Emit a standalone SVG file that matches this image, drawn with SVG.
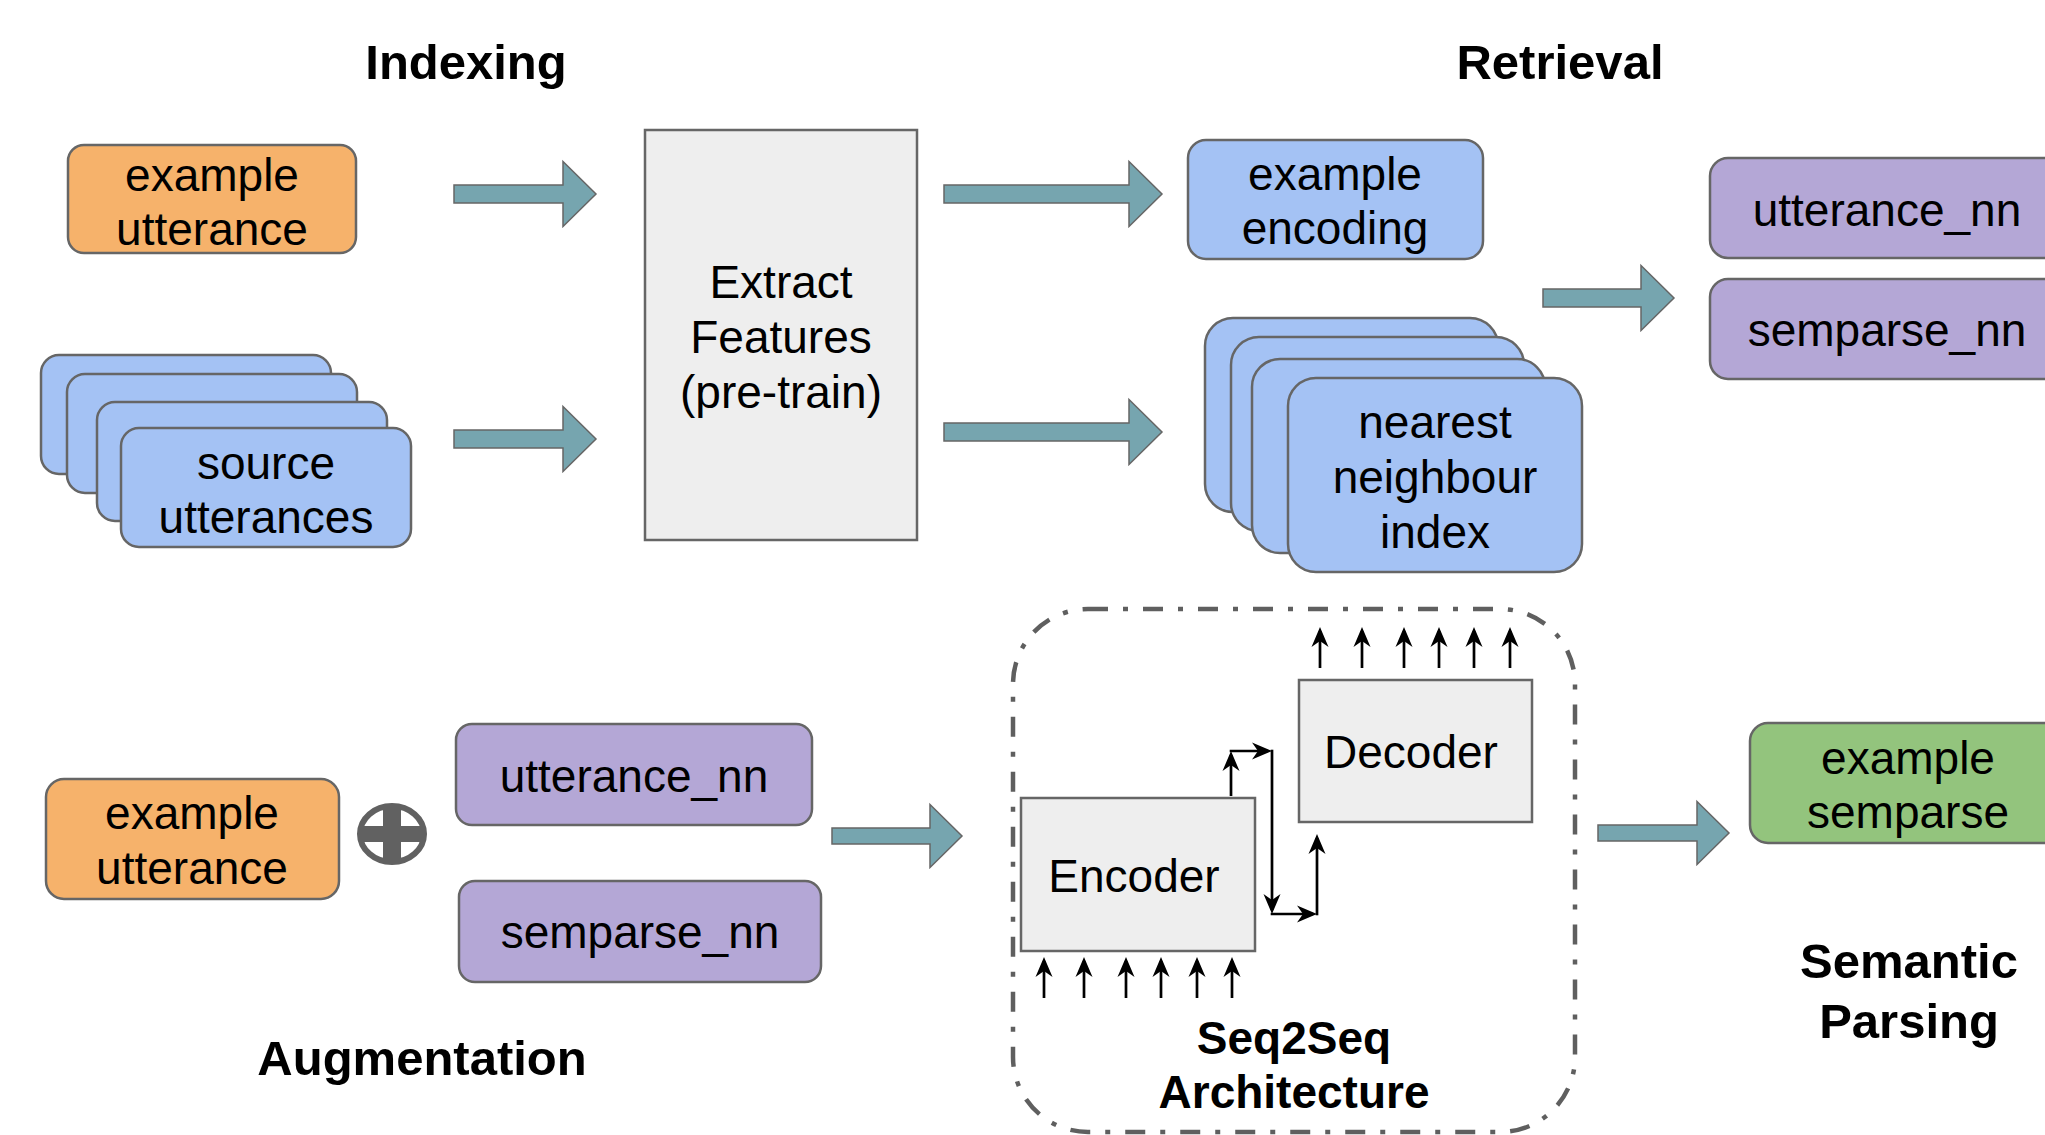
<svg xmlns="http://www.w3.org/2000/svg" width="2045" height="1135" viewBox="0 0 2045 1135">
<style>
.t{font-family:"Liberation Sans",Arial,sans-serif;font-size:46px;fill:#000;text-anchor:middle}
.h{font-family:"Liberation Sans",Arial,sans-serif;font-size:49px;font-weight:bold;fill:#000;text-anchor:middle}
.h2{font-family:"Liberation Sans",Arial,sans-serif;font-size:46px;font-weight:bold;fill:#000;text-anchor:middle}
.orange{fill:#f6b26b;stroke:#666;stroke-width:2.5}
.blue{fill:#a4c2f4;stroke:#666;stroke-width:2.5}
.purple{fill:#b4a7d6;stroke:#666;stroke-width:2.5}
.green{fill:#93c47d;stroke:#666;stroke-width:2.5}
.gray{fill:#eeeeee;stroke:#666;stroke-width:2.5}
.big{fill:#76a5af;stroke:#666;stroke-width:1.5}
.thin{stroke:#000;stroke-width:2.7;fill:none;marker-end:url(#ah)}
</style>
<defs>
<marker id="ah" markerUnits="userSpaceOnUse" viewBox="-20 -10 26 20" markerWidth="26" markerHeight="20" refX="0" refY="0" orient="auto">
<path d="M4,0 L-16,-8.5 L-10,0 L-16,8.5 Z" fill="#000"/>
</marker>
</defs>

<g id="titles">
<text class="h" x="466" y="79">Indexing</text>
<text class="h" x="1560" y="79">Retrieval</text>
<text class="h" x="422" y="1075">Augmentation</text>
<text class="h" x="1909" y="978">Semantic</text>
<text class="h" x="1909" y="1038">Parsing</text>
</g>

<g id="example-utterance">
<rect class="orange" x="68" y="145" width="288" height="108" rx="16"/>
<text class="t" x="212" y="191">example</text>
<text class="t" x="212" y="245">utterance</text>
</g>

<g id="source-utterances">
<rect class="blue" x="41" y="355" width="290" height="119" rx="18"/>
<rect class="blue" x="67" y="374" width="290" height="119" rx="18"/>
<rect class="blue" x="97" y="402" width="290" height="119" rx="18"/>
<rect class="blue" x="121" y="428" width="290" height="119" rx="18"/>
<text class="t" x="266" y="479">source</text>
<text class="t" x="266" y="533">utterances</text>
</g>

<g id="extract-features">
<rect class="gray" x="645" y="130" width="272" height="410"/>
<text class="t" x="781" y="298">Extract</text>
<text class="t" x="781" y="353">Features</text>
<text class="t" x="781" y="408">(pre-train)</text>
</g>

<g id="example-encoding">
<rect class="blue" x="1188" y="140" width="295" height="119" rx="18"/>
<text class="t" x="1335" y="190">example</text>
<text class="t" x="1335" y="244">encoding</text>
</g>

<g id="nearest-neighbour-index">
<rect class="blue" x="1205" y="318" width="293" height="194" rx="28"/>
<rect class="blue" x="1231" y="337" width="293" height="194" rx="28"/>
<rect class="blue" x="1252" y="359" width="293" height="194" rx="28"/>
<rect class="blue" x="1288" y="378" width="294" height="194" rx="28"/>
<text class="t" x="1435" y="438">nearest</text>
<text class="t" x="1435" y="493">neighbour</text>
<text class="t" x="1435" y="548">index</text>
</g>

<g id="retrieved-utterance-nn">
<rect class="purple" x="1710" y="158" width="360" height="100" rx="18"/>
<text class="t" x="1887" y="226">utterance_nn</text>
</g>
<g id="retrieved-semparse-nn">
<rect class="purple" x="1710" y="279" width="360" height="100" rx="18"/>
<text class="t" x="1887" y="346">semparse_nn</text>
</g>

<g id="aug-example-utterance">
<rect class="orange" x="46" y="779" width="293" height="120" rx="18"/>
<text class="t" x="192" y="829">example</text>
<text class="t" x="192" y="884">utterance</text>
</g>

<g id="plus">
<ellipse cx="392" cy="834" rx="32" ry="28" fill="#fff" stroke="#616161" stroke-width="6"/>
<rect x="383" y="806" width="18" height="56" fill="#616161"/>
<rect x="361" y="826" width="62" height="16" fill="#616161"/>
</g>

<g id="aug-utterance-nn">
<rect class="purple" x="456" y="724" width="356" height="101" rx="16"/>
<text class="t" x="634" y="792">utterance_nn</text>
</g>
<g id="aug-semparse-nn">
<rect class="purple" x="459" y="881" width="362" height="101" rx="16"/>
<text class="t" x="640" y="948">semparse_nn</text>
</g>

<g id="seq2seq">
<rect x="1013" y="609" width="562" height="523" rx="75" fill="none" stroke="#5f5f5f" stroke-width="4.5" stroke-dasharray="20 15 5 15"/>
<text class="h2" x="1294" y="1054">Seq2Seq</text>
<text class="h2" x="1294" y="1108">Architecture</text>
</g>

<g id="encoder">
<rect class="gray" x="1021" y="798" width="234" height="153"/>
<text class="t" x="1134" y="892">Encoder</text>
</g>

<g id="decoder">
<rect class="gray" x="1299" y="680" width="233" height="142"/>
<text class="t" x="1411" y="768">Decoder</text>
</g>

<g id="example-semparse">
<rect class="green" x="1750" y="723" width="320" height="120" rx="18"/>
<text class="t" x="1908" y="774">example</text>
<text class="t" x="1908" y="828">semparse</text>
</g>

<g id="connectors">
<polygon class="big" points="454,185 563,185 563,161.5 596,194 563,226.5 563,203 454,203"/>
<polygon class="big" points="454,430 563,430 563,406.5 596,439 563,471.5 563,448 454,448"/>
<polygon class="big" points="944,185 1129,185 1129,161.5 1162,194 1129,226.5 1129,203 944,203"/>
<polygon class="big" points="944,423 1129,423 1129,399.5 1162,432 1129,464.5 1129,441 944,441"/>
<polygon class="big" points="1543,289 1641,289 1641,265.5 1674,298 1641,330.5 1641,307 1543,307"/>
<polygon class="big" points="832,828 930,828 930,804.5 962,836 930,867.5 930,844 832,844"/>
<polygon class="big" points="1598,825 1697,825 1697,801.5 1729,833 1697,864.5 1697,841 1598,841"/>

<line class="thin" x1="1044" y1="998" x2="1044" y2="961"/>
<line class="thin" x1="1084" y1="998" x2="1084" y2="961"/>
<line class="thin" x1="1126" y1="998" x2="1126" y2="961"/>
<line class="thin" x1="1161" y1="998" x2="1161" y2="961"/>
<line class="thin" x1="1197" y1="998" x2="1197" y2="961"/>
<line class="thin" x1="1232" y1="998" x2="1232" y2="961"/>

<line class="thin" x1="1320" y1="668" x2="1320" y2="631"/>
<line class="thin" x1="1362" y1="668" x2="1362" y2="631"/>
<line class="thin" x1="1404" y1="668" x2="1404" y2="631"/>
<line class="thin" x1="1439" y1="668" x2="1439" y2="631"/>
<line class="thin" x1="1474" y1="668" x2="1474" y2="631"/>
<line class="thin" x1="1510" y1="668" x2="1510" y2="631"/>

<line class="thin" x1="1231" y1="796" x2="1231" y2="755"/>
<line class="thin" x1="1229.7" y1="751" x2="1268" y2="751"/>
<line class="thin" x1="1272" y1="749.7" x2="1272" y2="910"/>
<line class="thin" x1="1270.7" y1="914" x2="1313" y2="914"/>
<line class="thin" x1="1317" y1="915.3" x2="1317" y2="838"/>
</g>
</svg>
